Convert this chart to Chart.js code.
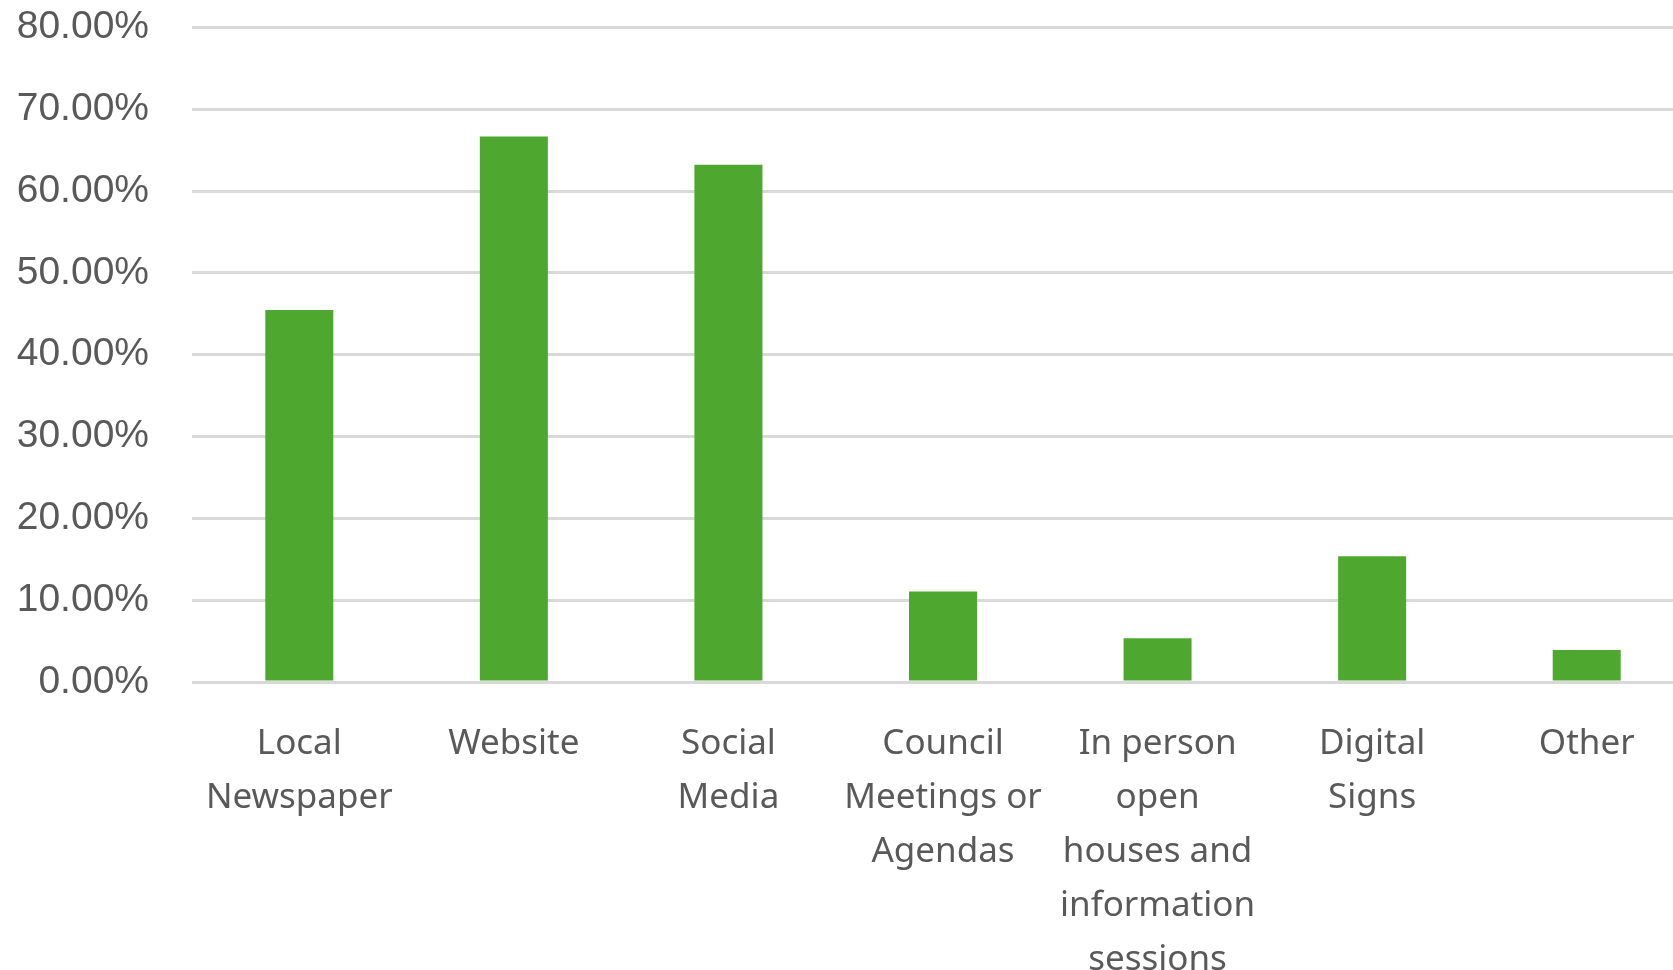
<!DOCTYPE html>
<html>
<head>
<meta charset="utf-8">
<script src="https://cdn.jsdelivr.net/npm/chart.js@4"></script>
<style>
  html, body { margin: 0; padding: 0; background: #fff; overflow: hidden; }
  #wrap { position: relative; top: -39px; width: 1694px; height: 1009px; }
</style>
</head>
<body>
<div id="wrap"><canvas id="barChart"></canvas></div>
<script>
const categories = [
    ['Local', 'Newspaper'],
    ['Website'],
    ['Social', 'Media'],
    ['Council', 'Meetings or', 'Agendas'],
    ['In person', 'open', 'houses and', 'information', 'sessions'],
    ['Digital', 'Signs'],
    ['Other']
];
const shares = [45.45, 66.67, 63.20, 11.07, 5.35, 15.37, 3.91];
const yMin = 0;
const yMax = 80;
const yStep = 10;

document.addEventListener('DOMContentLoaded', function() {
    const ctx = document.getElementById('barChart').getContext('2d');
    new Chart(ctx, {
        type: 'bar',
        data: {
            labels: categories,
            datasets: [{
                data: shares,
                backgroundColor: '#4ea72e',
                borderWidth: 0,
                categoryPercentage: 1,
                barPercentage: 0.317
            }]
        },
        options: {
            responsive: true,
            maintainAspectRatio: false,
            animation: false,
            layout: { padding: 0 },
            plugins: {
                legend: { display: false },
                tooltip: { enabled: false }
            },
            scales: {
                x: {
                    grid: { display: false },
                    border: { display: false },
                    ticks: {
                        autoSkip: false,
                        maxRotation: 0,
                        padding: 27,
                        color: '#595959',
                        font: { family: 'Noto Sans', size: 35, lineHeight: '54px' }
                    },
                    afterFit: function(scale) { scale.height = 288; }
                },
                y: {
                    min: yMin,
                    max: yMax,
                    border: { display: false },
                    grid: { color: '#d9d9d9', lineWidth: 3, drawTicks: false },
                    ticks: {
                        stepSize: yStep,
                        padding: 43,
                        color: '#595959',
                        font: { family: 'Liberation Sans', size: 39 },
                        callback: function(value) { return value.toFixed(2) + '%'; }
                    },
                    afterFit: function(scale) { scale.width = 192; }
                }
            }
        }
    });
});
</script>
</body>
</html>
